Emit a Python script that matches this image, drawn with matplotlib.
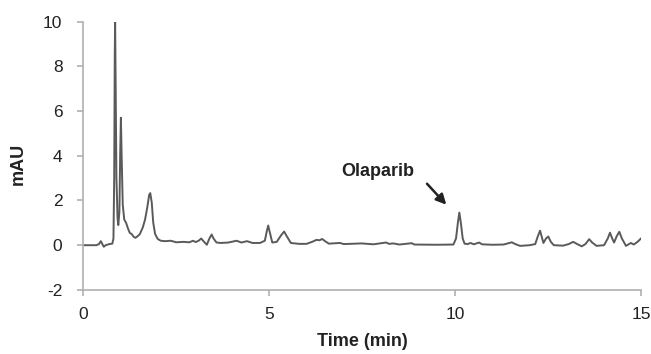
import matplotlib.pyplot as plt
import numpy as np

plt.rcParams['font.family'] = ['Liberation Sans', 'DejaVu Sans']
plt.rcParams['axes.unicode_minus'] = False

# chromatogram trace
time_min = [0.0, 0.35, 0.42, 0.47, 0.51, 0.55, 0.6, 0.7, 0.78, 0.81, 0.83, 0.845, 0.855,
            0.87, 0.89, 0.92, 0.94, 0.97, 0.99, 1.01, 1.03, 1.06, 1.1, 1.15, 1.2, 1.25,
            1.3, 1.35, 1.4, 1.46, 1.52, 1.6, 1.66, 1.72, 1.77, 1.8, 1.84, 1.88, 1.93,
            2.0, 2.08, 2.2, 2.35, 2.5, 2.7, 2.85, 2.95, 3.02, 3.1, 3.17, 3.23, 3.32,
            3.39, 3.45, 3.5, 3.58, 3.7, 3.9, 4.12, 4.25, 4.4, 4.55, 4.75, 4.88, 4.93,
            4.97, 5.01, 5.08, 5.2, 5.32, 5.4, 5.47, 5.58, 5.8, 6.0, 6.15, 6.27, 6.35,
            6.42, 6.5, 6.6, 6.9, 7.0, 7.48, 7.8, 8.14, 8.22, 8.33, 8.5, 8.83, 8.9,
            9.5, 9.95, 10.02, 10.07, 10.11, 10.15, 10.2, 10.25, 10.33, 10.41, 10.5,
            10.64, 10.72, 11.0, 11.3, 11.52, 11.6, 11.74, 12.0, 12.15, 12.22, 12.28,
            12.33, 12.37, 12.44, 12.5, 12.57, 12.65, 12.9, 13.05, 13.17, 13.28, 13.4,
            13.5, 13.6, 13.68, 13.8, 14.0, 14.1, 14.16, 14.22, 14.27, 14.34, 14.41,
            14.48, 14.59, 14.72, 14.8, 14.9, 15.0]
mau = [0.0, 0.0, 0.05, 0.18, 0.05, -0.07, 0.0, 0.05, 0.07, 0.3, 3.0, 8.5, 10.0,
       7.0, 3.0, 1.2, 0.9, 1.5, 4.0, 5.7, 4.0, 1.8, 1.15, 1.0, 0.75, 0.55,
       0.5, 0.38, 0.33, 0.4, 0.5, 0.8, 1.15, 1.7, 2.25, 2.33, 1.9, 1.0, 0.5,
       0.28, 0.2, 0.18, 0.2, 0.13, 0.15, 0.13, 0.2, 0.14, 0.2, 0.3, 0.18, 0.02,
       0.3, 0.48, 0.3, 0.12, 0.1, 0.12, 0.2, 0.12, 0.18, 0.1, 0.1, 0.2, 0.6,
       0.88, 0.6, 0.12, 0.15, 0.45, 0.61, 0.4, 0.1, 0.06, 0.06, 0.15, 0.24, 0.22,
       0.28, 0.18, 0.07, 0.1, 0.05, 0.08, 0.04, 0.12, 0.06, 0.08, 0.03, 0.09, 0.03,
       0.02, 0.03, 0.3, 1.0, 1.46, 1.0, 0.3, 0.07, 0.05, 0.1, 0.04,
       0.12, 0.04, 0.02, 0.03, 0.13, 0.06, -0.03, 0.0, 0.05, 0.4, 0.65,
       0.35, 0.1, 0.3, 0.39, 0.15, 0.0, -0.02, 0.05, 0.15, 0.05, -0.05,
       0.05, 0.27, 0.12, -0.03, 0.0, 0.3, 0.56, 0.3, 0.12, 0.4, 0.6,
       0.3, -0.03, 0.1, 0.03, 0.15, 0.31]

x_ticks = [0, 5, 10, 15]
y_ticks = [-2, 0, 2, 4, 6, 8, 10]

fig = plt.figure(figsize=(6.51, 3.54), dpi=100)
ax = fig.add_axes([0.128, 0.181, 0.857, 0.758])
ax.plot(time_min, mau, color="#5a5a5a", linewidth=1.4)

ax.set_xlim(0, 15)
ax.set_ylim(-2, 10)
ax.set_xticks(x_ticks)
ax.set_yticks(y_ticks)
for s in ["top", "right"]:
    ax.spines[s].set_visible(False)
for s in ["left", "bottom"]:
    ax.spines[s].set_color("#b0b0b0")
    ax.spines[s].set_linewidth(1.2)
ax.tick_params(colors="#b0b0b0", labelcolor="#222222", length=4, width=1.2)
ax.tick_params(axis="x", labelsize=12.5, pad=8)
ax.tick_params(axis="y", labelsize=12.5, pad=11)

ax.set_xlabel("Time (min)", fontsize=13, fontweight="bold", color="#222222", labelpad=8)
ax.set_ylabel("mAU", fontsize=13, fontweight="bold", color="#222222")
ax.yaxis.set_label_coords(-0.101, 0.47)

ax.text(7.92, 3.28, "Olaparib", fontsize=13, fontweight="bold", color="#222222",
        ha="center", va="center")
ax.annotate("", xy=(9.81, 1.72), xytext=(9.19, 2.84),
            arrowprops=dict(arrowstyle="-|>", color="#222222", lw=1.8, mutation_scale=15))

fig.savefig("out.png", dpi=100)
